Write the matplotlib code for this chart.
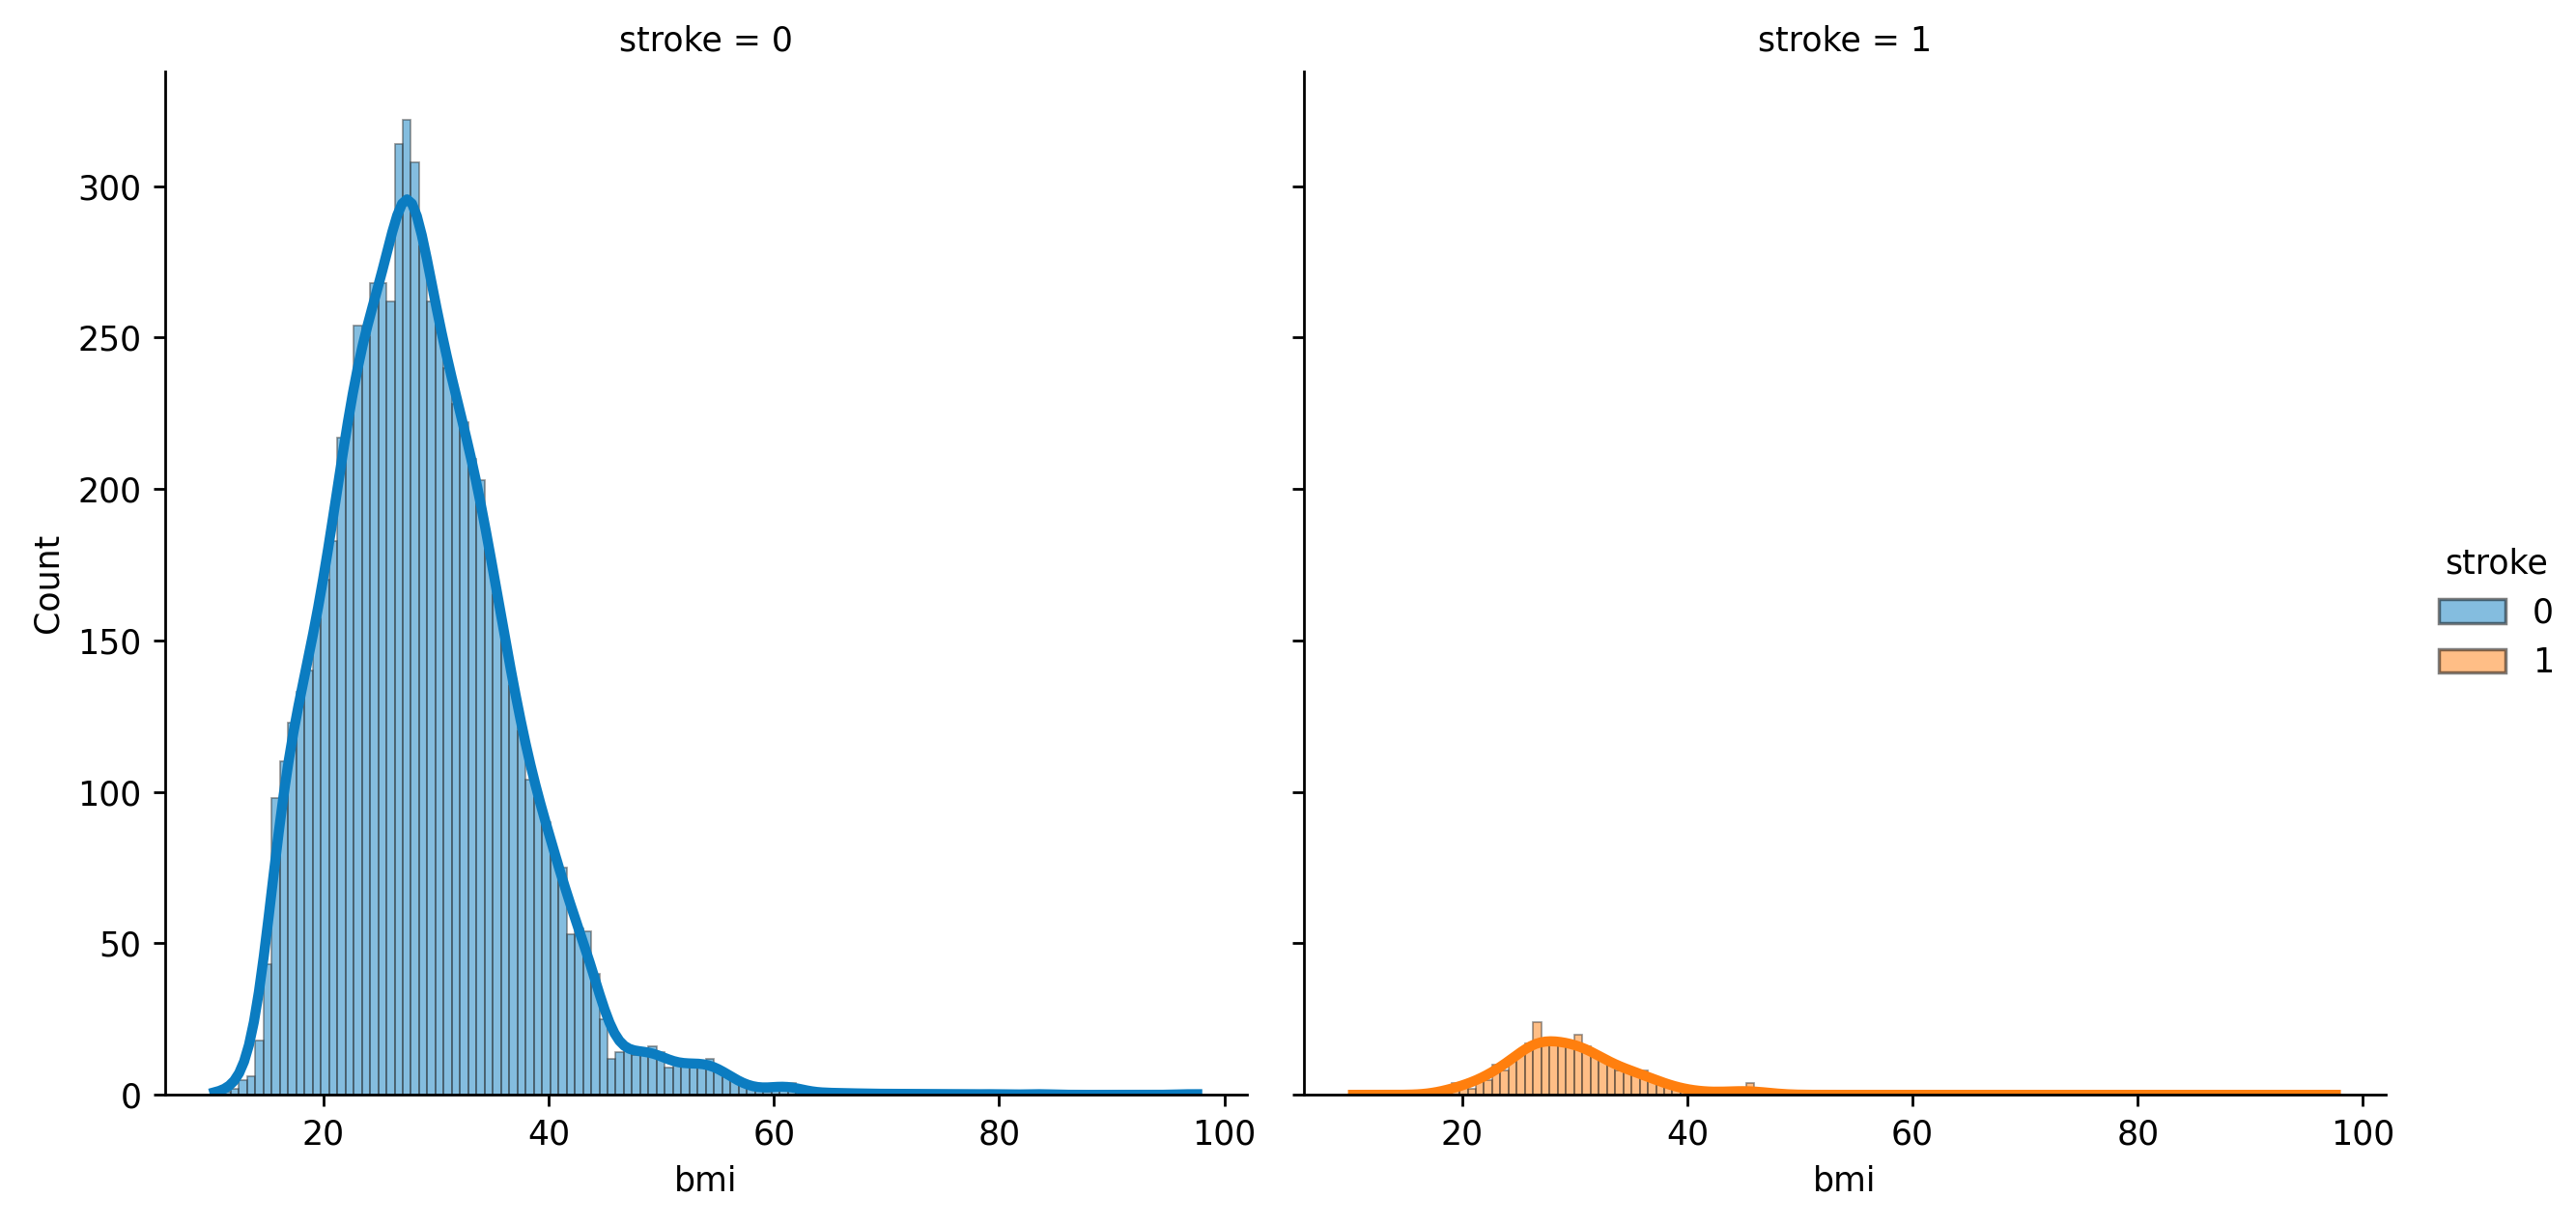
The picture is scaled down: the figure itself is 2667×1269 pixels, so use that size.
import numpy as np
import matplotlib.pyplot as plt
from matplotlib.patches import Patch

# shared bins (seaborn auto bins over full bmi range)
bin_start = 10.3
bin_width = 0.7275
n_bins = 120

# counts per bin, stroke = 0 (bins 0..70, then sparse tail)
counts_0 = [1, 1, 2, 5, 6, 18, 43, 98, 110, 123,
            133, 140, 157, 170, 183, 217, 225, 254, 250, 268,
            268, 262, 314, 322, 308, 280, 262, 255, 240, 228,
            222, 210, 203, 180, 165, 150, 135, 120, 104, 98,
            90, 80, 75, 53, 55, 54, 40, 25, 12, 14,
            15, 13, 15, 16, 14, 9, 10, 10, 10, 11,
            12, 9, 7, 5, 3, 2, 2, 1, 3, 4,
            4, 1, 1, 0, 1, 1, 0, 1, 0, 1,
            0, 0, 1, 0, 0, 1, 0, 0, 0, 1,
            0, 0, 0, 0, 1, 0, 0, 0, 0, 0,
            1, 0, 0, 0, 0, 0, 0, 0, 0, 0,
            0, 0, 0, 0, 0, 0, 0, 0, 0, 1]

# counts per bin, stroke = 1 (starting at bin 11)
counts_1_offset = 11
counts_1 = [1, 4, 3, 2, 6, 5, 10, 8, 12, 13,
            17, 24, 18, 17, 17, 16, 20, 16, 13, 12,
            10, 8, 9, 7, 8, 5, 4, 3, 2, 2,
            1, 1, 1, 0, 1, 2, 0, 4, 0, 1]

strokes = [0, 1]
colors = ['#0b7cc1', '#ff7f0e']

edges = bin_start + bin_width * np.arange(n_bins + 1)
centers = edges[:-1] + bin_width / 2

h0 = np.array(counts_0, dtype=float)
h1 = np.zeros(n_bins)
h1[counts_1_offset:counts_1_offset + len(counts_1)] = counts_1
hists = [h0, h1]


def kde_counts(h):
    # weighted gaussian kde, Scott bandwidth, scaled to counts
    n = h.sum()
    mean = (h * centers).sum() / n
    sd = np.sqrt((h * (centers - mean) ** 2).sum() / n)
    bw = sd * n ** (-1 / 5)
    grid = np.linspace(edges[0], edges[-1], 200)
    dens = (h[None, :] * np.exp(-0.5 * ((grid[:, None] - centers[None, :]) / bw) ** 2)).sum(1)
    dens /= (n * bw * np.sqrt(2 * np.pi))
    return grid, dens * n * bin_width


fig = plt.figure(figsize=(10.668, 5.076), dpi=250)
ax0 = fig.add_axes([0.064, 0.107, 0.42, 0.835])
ax1 = fig.add_axes([0.506, 0.107, 0.42, 0.835], sharey=ax0)

for ax, s, h, c in zip([ax0, ax1], strokes, hists, colors):
    ax.bar(edges[:-1], h, width=bin_width, align='edge', color=c, alpha=0.5,
           edgecolor='#333333', linewidth=0.5)
    gx, gy = kde_counts(h)
    ax.plot(gx, gy, color=c, lw=3)
    ax.set_title(f'stroke = {s}', fontsize=10)
    ax.set_xlabel('bmi', fontsize=10)
    ax.set_xlim(5.9, 102)
    ax.set_xticks([20, 40, 60, 80, 100])
    for sp in ['top', 'right']:
        ax.spines[sp].set_visible(False)
    ax.tick_params(labelsize=10)

ax0.set_ylim(0, 338)
ax0.set_yticks([0, 50, 100, 150, 200, 250, 300])
ax0.set_ylabel('Count', fontsize=10)
plt.setp(ax1.get_yticklabels(), visible=False)

handles = [Patch(facecolor=c, alpha=0.5, edgecolor='black', label=str(s)) for s, c in zip(strokes, colors)]
fig.legend(handles=handles, title='stroke', loc='center left', bbox_to_anchor=(0.935, 0.5),
           frameon=False, fontsize=10, title_fontsize=10)

fig.savefig('out.png')
